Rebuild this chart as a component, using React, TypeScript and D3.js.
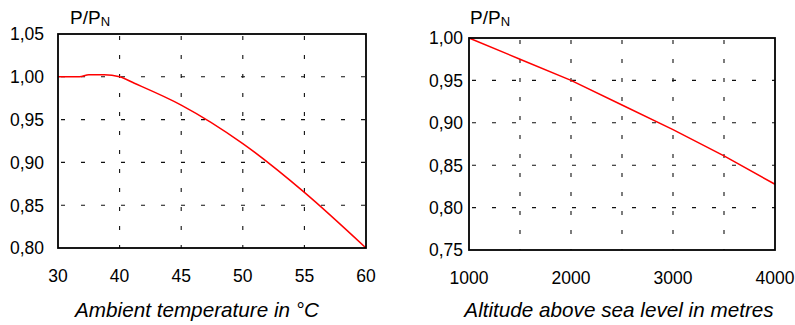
import React from 'react';
import * as d3 from 'd3';

// left chart: power factor vs ambient temperature
const tempTicks = [30, 40, 45, 50, 55, 60];
const tempC = [30, 33.5, 35, 37.5, 40, 41.2, 45, 50, 55, 60];
const tempFactor = [1.0, 1.0, 1.0023, 1.0023, 1.0, 0.9925, 0.967, 0.922, 0.865, 0.8];
const tempYTicks = [0.8, 0.85, 0.9, 0.95, 1.0, 1.05];

// right chart: power factor vs altitude
const altTicks = [1000, 2000, 3000, 4000];
const altGrid = [1500, 2000, 2500, 3000, 3500];
const altitude = [1000, 1500, 2000, 2500, 3000, 3500, 4000];
const altFactor = [1.0, 0.975, 0.95, 0.921, 0.892, 0.861, 0.8275];
const altYTicks = [0.75, 0.8, 0.85, 0.9, 0.95, 1.0];

const FONT = '"Liberation Sans", Arial, sans-serif';
const fmt = (v: number) => d3.format('.2f')(v).replace('.', ',');

type PanelProps = {
  x: d3.ScaleLinear<number, number>;
  y: d3.ScaleLinear<number, number>;
  xTicks: number[];
  xGrid: number[];
  yTicks: number[];
  xs: number[];
  ys: number[];
  curve: d3.CurveFactory;
  yLabelX: number;
  title: string;
  titleX: number;
  unitX: number;
};

const Panel = ({ x, y, xTicks, xGrid, yTicks, xs, ys, curve, yLabelX, title, titleX, unitX }: PanelProps) => {
  const xr = x.range();
  const x0 = xr[0], x1 = xr[xr.length - 1];
  const y0 = y.range()[0], y1 = y.range()[1]; // bottom, top
  const line = d3.line<number>()
    .x((d, i) => x(xs[i]))
    .y(d => y(d))
    .curve(curve);

  return (
    <g>
      {/* dashed grid */}
      {xGrid.map(v => (
        <line key={'gx' + v} x1={x(v)} x2={x(v)} y1={y1} y2={y0}
          stroke="#111" strokeWidth={1.1} strokeDasharray="4,15" strokeDashoffset={-2} />
      ))}
      {yTicks.slice(1, -1).map(v => (
        <line key={'gy' + v} x1={x0} x2={x1} y1={y(v)} y2={y(v)}
          stroke="#111" strokeWidth={1.1} strokeDasharray="4,16" strokeDashoffset={-3} />
      ))}
      <path d={line(ys) || ''} fill="none" stroke="#ff0000" strokeWidth={1.5} />
      <rect x={x0} y={y1} width={x1 - x0} height={y0 - y1} fill="none" stroke="#000" strokeWidth={1.8} />

      {yTicks.map(v => (
        <text key={'ty' + v} x={yLabelX} y={y(v)} dy="0.36em" textAnchor="end"
          fontSize={17.5} fontFamily={FONT} fill="#000">{fmt(v)}</text>
      ))}
      {xTicks.map(v => (
        <text key={'tx' + v} x={x(v)} y={y0 + 34} textAnchor="middle"
          fontSize={17.5} fontFamily={FONT} fill="#000">{v}</text>
      ))}

      <text x={unitX} y={24} fontSize={19} fontFamily={FONT} fill="#000">
        P/P<tspan fontSize={13} dy={2}>N</tspan>
      </text>
      <text x={titleX} y={317} textAnchor="middle" fontSize={20.7} fontStyle="italic"
        fontFamily={FONT} fill="#000">{title}</text>
    </g>
  );
};

export default function App() {
  // temperature axis with equally spaced ticks (30 -> 40 spans the same width as 40 -> 45)
  const xTemp = d3.scaleLinear()
    .domain(tempTicks)
    .range(tempTicks.map((_, i) => 58 + (i * (366 - 58)) / (tempTicks.length - 1)));
  const yTemp = d3.scaleLinear().domain([0.8, 1.05]).range([248, 34]);

  const xAlt = d3.scaleLinear().domain([1000, 4000]).range([469, 775]);
  const yAlt = d3.scaleLinear().domain([0.75, 1.0]).range([250, 38]);

  return (
    <svg width={795} height={325} style={{ position: 'absolute', left: 0, top: 0, background: '#fff' }}>
      <Panel x={xTemp} y={yTemp} xTicks={tempTicks} xGrid={tempTicks.slice(1, -1)}
        yTicks={tempYTicks} xs={tempC} ys={tempFactor} curve={d3.curveMonotoneX} yLabelX={44}
        title="Ambient temperature in °C" titleX={197} unitX={70} />
      <Panel x={xAlt} y={yAlt} xTicks={altTicks} xGrid={altGrid}
        yTicks={altYTicks} xs={altitude} ys={altFactor} curve={d3.curveLinear} yLabelX={463}
        title="Altitude above sea level in metres" titleX={619} unitX={470} />
    </svg>
  );
}
